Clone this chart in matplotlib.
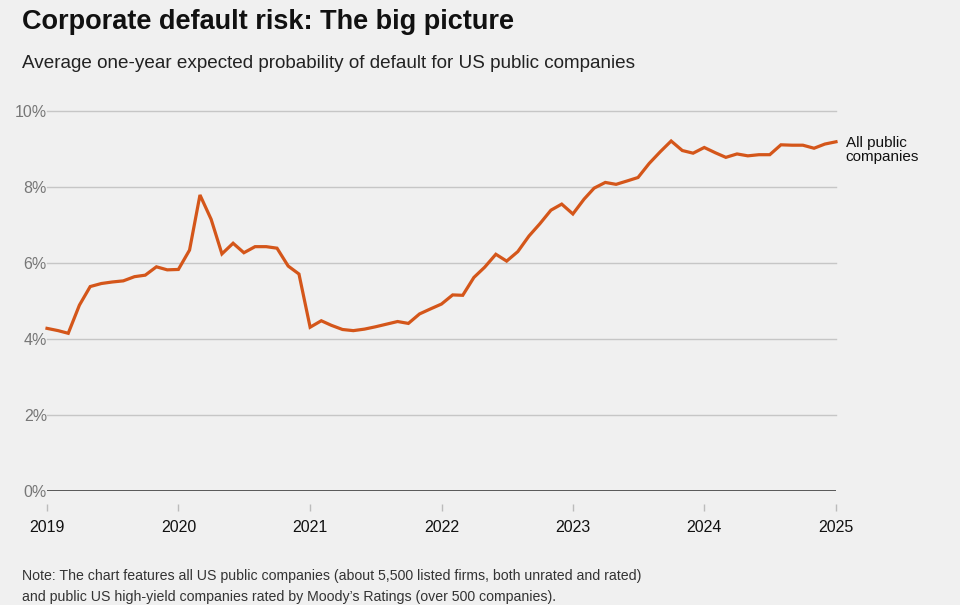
import numpy as np
import pandas as pd
import matplotlib
matplotlib.use("Agg")
import matplotlib.pyplot as plt

# monthly values, Jan 2019 .. Jan 2025 (percent)
months = pd.date_range("2019-01-01", "2025-01-01", freq="MS")
pd_all = [
    4.28, 4.22, 4.15, 4.89, 5.38, 5.46, 5.50, 5.53, 5.64, 5.68, 5.90, 5.82,  # 2019
    5.83, 6.34, 7.79, 7.15, 6.24, 6.52, 6.27, 6.43, 6.43, 6.39, 5.92, 5.71,  # 2020
    4.31, 4.48, 4.36, 4.25, 4.22, 4.26, 4.32, 4.39, 4.46, 4.41, 4.66, 4.79,  # 2021
    4.92, 5.16, 5.15, 5.62, 5.89, 6.23, 6.05, 6.30, 6.71, 7.03, 7.39, 7.55,  # 2022
    7.29, 7.68, 7.97, 8.12, 8.07, 8.16, 8.25, 8.62, 8.93, 9.21, 8.96, 8.89,  # 2023
    9.04, 8.90, 8.78, 8.87, 8.82, 8.85, 8.85, 9.11, 9.10, 9.10, 9.02, 9.13,  # 2024
    9.19,                                                                    # 2025
]
y_ticks = [0, 2, 4, 6, 8, 10]
y_tick_labels = ["0%", "2%", "4%", "6%", "8%", "10%"]
year_ticks = pd.date_range("2019-01-01", "2025-01-01", freq="YS")
year_labels = [str(d.year) for d in year_ticks]
series_label = "All public\ncompanies"

BG = "#f0f0f0"
LINE = "#d4561a"
plt.rcParams["font.family"] = ["Liberation Sans", "DejaVu Sans"]

fig = plt.figure(figsize=(9.6, 6.05), dpi=100, facecolor=BG)
ax = fig.add_axes([47 / 960, 1 - 491 / 605, (836 - 47) / 960, (491 - 111) / 605])
ax.set_facecolor(BG)

ax.plot(months, pd_all, color=LINE, lw=2.3, solid_joinstyle="miter", zorder=3, clip_on=False)

ax.set_xlim(year_ticks[0], year_ticks[-1])
ax.set_ylim(0, 10)

# grid
for v in y_ticks[1:]:
    ax.axhline(v, color="#c6c6c6", lw=1.0, zorder=1, clip_on=False)
ax.axhline(0, color="#2a2a2a", lw=1.8, zorder=2)

for s in ax.spines.values():
    s.set_visible(False)

ax.set_yticks(y_ticks)
ax.set_yticklabels(y_tick_labels, color="#777777", fontsize=11.5)
ax.tick_params(axis="y", length=0, pad=0)

ax.set_xticks(year_ticks)
ax.set_xticklabels(year_labels, color="#111111", fontsize=11.5)
ax.tick_params(axis="x", length=0, pad=21)
# detached tick marks under the zero line
ax.vlines(year_ticks, -0.33, -0.52, color="#bbbbbb", lw=1.0, clip_on=False)

# series label at end of line
ax.annotate(series_label, xy=(months[-1], pd_all[-1]), xytext=(7, -6),
            textcoords="offset points", fontsize=11, color="#111111",
            va="center", ha="left", linespacing=1.05, annotation_clip=False)

fig.text(22 / 960, 1 - 22 / 605, "Corporate default risk: The big picture",
         fontsize=19.5, fontweight="bold", color="#111111", va="center", ha="left")
fig.text(22 / 960, 1 - 63 / 605,
         "Average one-year expected probability of default for US public companies",
         fontsize=13.6, color="#222222", va="center", ha="left")
fig.text(22 / 960, 1 - 586.5 / 605,
         "Note: The chart features all US public companies (about 5,500 listed firms, both unrated and rated)\n"
         "and public US high-yield companies rated by Moody\u2019s Ratings (over 500 companies).",
         fontsize=10.2, color="#333333", va="center", ha="left", linespacing=1.7)

fig.savefig("out.png", dpi=100, facecolor=BG)
